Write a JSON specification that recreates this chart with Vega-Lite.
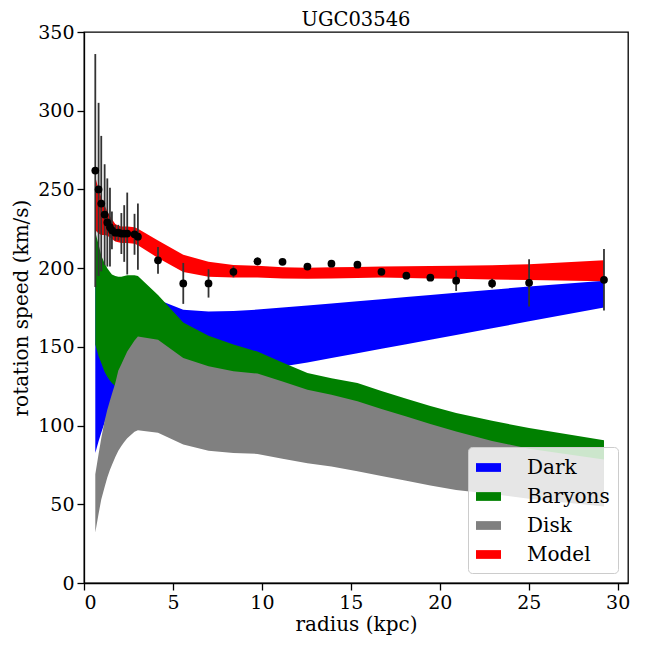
{
  "$schema": "https://vega.github.io/schema/vega-lite/v6.json",
  "width": 544,
  "height": 551,
  "autosize": {"type": "none"},
  "padding": {"left": 84, "top": 32, "right": 20, "bottom": 65},
  "background": "white",
  "title": {"text": "UGC03546", "font": "DejaVu Serif", "fontSize": 19.5, "fontWeight": "normal", "color": "black", "offset": -7.5},
  "config": {
    "view": {"stroke": "black", "strokeWidth": 1.3},
    "axis": {
      "grid": false,
      "domainColor": "black", "domainWidth": 1.3,
      "tickColor": "black", "tickWidth": 1.3, "tickSize": 7,
      "labelFont": "DejaVu Serif", "labelFontSize": 19, "labelColor": "black", "labelPadding": 3,
      "titleFont": "DejaVu Serif", "titleFontSize": 20, "titleFontWeight": "normal", "titleColor": "black"
    },
    "legend": {
      "orient": "bottom-right", "offset": 10,
      "fillColor": "rgba(255,255,255,0.8)", "strokeColor": "#cccccc", "cornerRadius": 4,
      "padding": 8, "labelFont": "DejaVu Serif", "labelFontSize": 20, "labelColor": "black",
      "symbolType": "M-1,-0.35H1V0.35H-1Z", "symbolSize": 625, "symbolStrokeWidth": 0, "symbolOpacity": 1,
      "rowPadding": 6, "labelOffset": 26, "title": null
    }
  },
  "datasets": {
    "bands": [
      {"r": 0.635, "dark_lo": 82.5, "dark_hi": 188, "bar_lo": 151.5, "bar_hi": 223, "disk_lo": 32, "disk_hi": 69, "mod_lo": 224, "mod_hi": 258},
      {"r": 0.82, "dark_lo": 90, "dark_hi": 188.5, "bar_lo": 144, "bar_hi": 215, "disk_lo": 44, "disk_hi": 82, "mod_lo": 222, "mod_hi": 250},
      {"r": 0.97, "dark_lo": 95.5, "dark_hi": 189, "bar_lo": 139.8, "bar_hi": 208, "disk_lo": 53, "disk_hi": 92, "mod_lo": 221, "mod_hi": 245},
      {"r": 1.16, "dark_lo": 102, "dark_hi": 189, "bar_lo": 134, "bar_hi": 203, "disk_lo": 61, "disk_hi": 103, "mod_lo": 221, "mod_hi": 240},
      {"r": 1.31, "dark_lo": 107, "dark_hi": 189, "bar_lo": 131, "bar_hi": 200, "disk_lo": 67, "disk_hi": 110, "mod_lo": 220.5, "mod_hi": 236},
      {"r": 1.46, "dark_lo": 111, "dark_hi": 189, "bar_lo": 128.5, "bar_hi": 197.5, "disk_lo": 72, "disk_hi": 116, "mod_lo": 219.5, "mod_hi": 233},
      {"r": 1.57, "dark_lo": 113, "dark_hi": 189, "bar_lo": 127, "bar_hi": 196, "disk_lo": 75, "disk_hi": 120, "mod_lo": 218.5, "mod_hi": 231},
      {"r": 1.76, "dark_lo": 117, "dark_hi": 189, "bar_lo": 125, "bar_hi": 195, "disk_lo": 80, "disk_hi": 127, "mod_lo": 217, "mod_hi": 228},
      {"r": 1.93, "dark_lo": 120, "dark_hi": 189, "bar_lo": 123.5, "bar_hi": 194.5, "disk_lo": 84, "disk_hi": 135, "mod_lo": 216.5, "mod_hi": 227},
      {"r": 2.10, "dark_lo": 122, "dark_hi": 189, "bar_lo": 122, "bar_hi": 194.5, "disk_lo": 87, "disk_hi": 139, "mod_lo": 216, "mod_hi": 226.5},
      {"r": 2.26, "dark_lo": 124, "dark_hi": 189, "bar_lo": 121, "bar_hi": 195, "disk_lo": 89.5, "disk_hi": 143, "mod_lo": 216, "mod_hi": 226.5},
      {"r": 2.43, "dark_lo": 126, "dark_hi": 189, "bar_lo": 120, "bar_hi": 195.5, "disk_lo": 92, "disk_hi": 147, "mod_lo": 216, "mod_hi": 226.5},
      {"r": 2.84, "dark_lo": 129, "dark_hi": 188, "bar_lo": 118, "bar_hi": 195.5, "disk_lo": 96, "disk_hi": 154, "mod_lo": 215.5, "mod_hi": 226},
      {"r": 3.03, "dark_lo": 130, "dark_hi": 187, "bar_lo": 117, "bar_hi": 195, "disk_lo": 97, "disk_hi": 156.5, "mod_lo": 214.5, "mod_hi": 225},
      {"r": 4.16, "dark_lo": 133, "dark_hi": 180, "bar_lo": 113, "bar_hi": 183, "disk_lo": 95.5, "disk_hi": 154.5, "mod_lo": 206.5, "mod_hi": 217.5},
      {"r": 5.58, "dark_lo": 135, "dark_hi": 173.5, "bar_lo": 104, "bar_hi": 165.5, "disk_lo": 88, "disk_hi": 143, "mod_lo": 197.5, "mod_hi": 208.5},
      {"r": 7.0, "dark_lo": 136, "dark_hi": 172.5, "bar_lo": 99, "bar_hi": 157, "disk_lo": 84, "disk_hi": 137.7, "mod_lo": 194.5, "mod_hi": 204},
      {"r": 8.4, "dark_lo": 137, "dark_hi": 172.8, "bar_lo": 96, "bar_hi": 151.5, "disk_lo": 82.5, "disk_hi": 134.5, "mod_lo": 194, "mod_hi": 202},
      {"r": 9.75, "dark_lo": 137.5, "dark_hi": 173.7, "bar_lo": 93, "bar_hi": 147, "disk_lo": 82, "disk_hi": 133, "mod_lo": 194, "mod_hi": 201.5},
      {"r": 11.16, "dark_lo": 137.5, "dark_hi": 175, "bar_lo": 89.5, "bar_hi": 140, "disk_lo": 79, "disk_hi": 128, "mod_lo": 193.5, "mod_hi": 200.5},
      {"r": 12.56, "dark_lo": 140.1, "dark_hi": 176.3, "bar_lo": 86.7, "bar_hi": 133.4, "disk_lo": 76, "disk_hi": 122.8, "mod_lo": 193.3, "mod_hi": 200.3},
      {"r": 13.91, "dark_lo": 142.9, "dark_hi": 177.6, "bar_lo": 84, "bar_hi": 130, "disk_lo": 74, "disk_hi": 119.5, "mod_lo": 193.5, "mod_hi": 200.5},
      {"r": 15.37, "dark_lo": 146, "dark_hi": 179, "bar_lo": 81.5, "bar_hi": 127, "disk_lo": 71, "disk_hi": 115.4, "mod_lo": 193.8, "mod_hi": 200.8},
      {"r": 16.72, "dark_lo": 148.8, "dark_hi": 180.3, "bar_lo": 80, "bar_hi": 122, "disk_lo": 68, "disk_hi": 110.5, "mod_lo": 194, "mod_hi": 201},
      {"r": 18.12, "dark_lo": 151.7, "dark_hi": 181.6, "bar_lo": 78, "bar_hi": 117, "disk_lo": 65, "disk_hi": 105.7, "mod_lo": 193.8, "mod_hi": 201.2},
      {"r": 19.47, "dark_lo": 154.5, "dark_hi": 182.9, "bar_lo": 76, "bar_hi": 112.5, "disk_lo": 62, "disk_hi": 101, "mod_lo": 193.5, "mod_hi": 201.3},
      {"r": 20.92, "dark_lo": 157.6, "dark_hi": 184.3, "bar_lo": 74, "bar_hi": 108, "disk_lo": 59, "disk_hi": 96.3, "mod_lo": 193.2, "mod_hi": 201.5},
      {"r": 22.94, "dark_lo": 161.8, "dark_hi": 186.3, "bar_lo": 71, "bar_hi": 103, "disk_lo": 56.5, "disk_hi": 90.2, "mod_lo": 192.8, "mod_hi": 201.8},
      {"r": 25.02, "dark_lo": 166.2, "dark_hi": 188.3, "bar_lo": 68, "bar_hi": 98.5, "disk_lo": 53.5, "disk_hi": 85.3, "mod_lo": 192.5, "mod_hi": 202.5},
      {"r": 29.23, "dark_lo": 175, "dark_hi": 192, "bar_lo": 63, "bar_hi": 90.6, "disk_lo": 48.6, "disk_hi": 78.5, "mod_lo": 191.7, "mod_hi": 205}
    ],
    "obs": [
      {"r": 0.635, "v": 262, "e": 74},
      {"r": 0.82, "v": 250, "e": 55},
      {"r": 0.97, "v": 241, "e": 43},
      {"r": 1.16, "v": 234, "e": 32},
      {"r": 1.31, "v": 229, "e": 28},
      {"r": 1.46, "v": 226, "e": 25},
      {"r": 1.57, "v": 224, "e": 12},
      {"r": 1.76, "v": 222.5, "e": 5},
      {"r": 1.93, "v": 222.5, "e": 5},
      {"r": 2.10, "v": 222, "e": 13},
      {"r": 2.26, "v": 222, "e": 18},
      {"r": 2.43, "v": 222, "e": 26},
      {"r": 2.84, "v": 221.5, "e": 13},
      {"r": 3.03, "v": 220, "e": 21},
      {"r": 4.16, "v": 205, "e": 8.5},
      {"r": 5.58, "v": 190.3, "e": 13},
      {"r": 7.0, "v": 190.3, "e": 9},
      {"r": 8.4, "v": 197.7, "e": 3.5},
      {"r": 9.75, "v": 204.3, "e": 2.5},
      {"r": 11.16, "v": 204, "e": 1.5},
      {"r": 12.56, "v": 201, "e": 1.5},
      {"r": 13.91, "v": 202.8, "e": 1.5},
      {"r": 15.37, "v": 202.2, "e": 1.5},
      {"r": 16.72, "v": 197.7, "e": 1.5},
      {"r": 18.12, "v": 195.2, "e": 1.5},
      {"r": 19.47, "v": 193.9, "e": 1.5},
      {"r": 20.92, "v": 192, "e": 6.5},
      {"r": 22.94, "v": 190.3, "e": 3},
      {"r": 25.02, "v": 190.7, "e": 15},
      {"r": 29.23, "v": 192.6, "e": 19.5}
    ]
  },
  "encoding": {
    "x": {"field": "r", "type": "quantitative", "title": "radius (kpc)",
          "scale": {"domain": [0, 30.58], "nice": false, "zero": false},
          "axis": {"values": [0, 5, 10, 15, 20, 25, 30], "titlePadding": 2}}
  },
  "layer": [
    {
      "data": {"name": "bands"},
      "mark": {"type": "area", "opacity": 1},
      "encoding": {
        "y": {"field": "dark_lo", "type": "quantitative", "title": "rotation speed (km/s)",
              "scale": {"domain": [0, 350], "nice": false},
              "axis": {"values": [0, 50, 100, 150, 200, 250, 300, 350], "titlePadding": 6}},
        "y2": {"field": "dark_hi"},
        "color": {"datum": "Dark", "type": "nominal",
                  "scale": {"domain": ["Dark", "Baryons", "Disk", "Model"], "range": ["#0000ff", "#008000", "#808080", "#ff0000"]}}
      }
    },
    {
      "data": {"name": "bands"},
      "mark": {"type": "area", "opacity": 1},
      "encoding": {
        "y": {"field": "bar_lo", "type": "quantitative", "title": "rotation speed (km/s)"},
        "y2": {"field": "bar_hi"},
        "color": {"datum": "Baryons", "type": "nominal"}
      }
    },
    {
      "data": {"name": "bands"},
      "mark": {"type": "area", "opacity": 1},
      "encoding": {
        "y": {"field": "disk_lo", "type": "quantitative", "title": "rotation speed (km/s)"},
        "y2": {"field": "disk_hi"},
        "color": {"datum": "Disk", "type": "nominal"}
      }
    },
    {
      "data": {"name": "bands"},
      "mark": {"type": "area", "opacity": 1},
      "encoding": {
        "y": {"field": "mod_lo", "type": "quantitative", "title": "rotation speed (km/s)"},
        "y2": {"field": "mod_hi"},
        "color": {"datum": "Model", "type": "nominal"}
      }
    },
    {
      "data": {"name": "obs"},
      "mark": {"type": "errorbar", "color": "#333333", "thickness": 1.8},
      "encoding": {
        "y": {"field": "v", "type": "quantitative", "title": "rotation speed (km/s)"},
        "yError": {"field": "e"}
      }
    },
    {
      "data": {"name": "obs"},
      "mark": {"type": "circle", "color": "black", "opacity": 1, "size": 60},
      "encoding": {
        "y": {"field": "v", "type": "quantitative", "title": "rotation speed (km/s)"}
      }
    }
  ]
}
